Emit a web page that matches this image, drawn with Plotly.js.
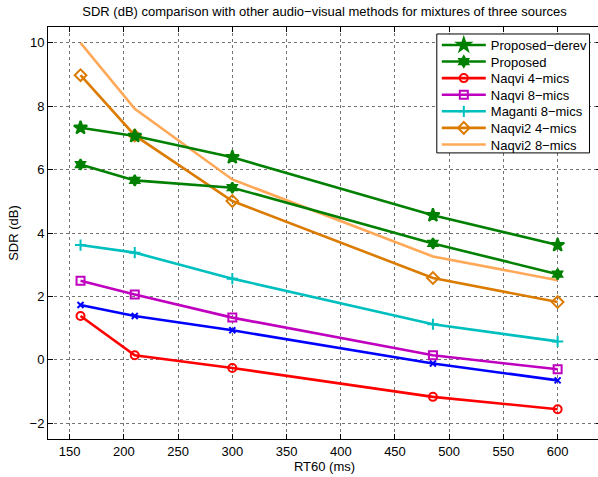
<!DOCTYPE html>
<html>
<head>
<meta charset="utf-8">
<script src="https://cdn.plot.ly/plotly-3.0.1.min.js"></script>
<style>
html,body{margin:0;padding:0;overflow:hidden;background:#fff;width:598px;height:477px;}
#chart{width:610px;height:477px;}
</style>
</head>
<body>
<div id="chart"></div>
<script>
const rt60 = [160, 210, 300, 485, 600];
const proposedDerev = [7.32, 7.06, 6.39, 4.56, 3.62];
const proposed = [6.16, 5.66, 5.43, 3.67, 2.70];
const naqvi4 = [1.38, 0.14, -0.26, -1.17, -1.56];
const naqvi8 = [2.49, 2.06, 1.33, 0.14, -0.30];
const maganti8 = [3.62, 3.38, 2.56, 1.12, 0.58];
const naqvi2_4 = [8.98, 7.08, 5.01, 2.58, 1.82];
const naqvi2_8 = [10.0, 7.92, 5.69, 3.26, 2.51];
const unlabeled = [1.73, 1.38, 0.93, -0.12, -0.65];

const xTicks = [150, 200, 250, 300, 350, 400, 450, 500, 550, 600];
const yTicks = [-2, 0, 2, 4, 6, 8, 10];
const legendOrder = ['Proposed\u2212derev', 'Proposed', 'Naqvi 4\u2212mics', 'Naqvi 8\u2212mics',
  'Maganti 8\u2212mics', 'Naqvi2 4\u2212mics', 'Naqvi2 8\u2212mics'];

const LW = 2.6;
function tr(name, y, color, symbol, size, show) {
  const t = {
    x: rt60, y: y, name: name, type: 'scatter',
    mode: symbol ? 'lines+markers' : 'lines',
    line: {color: color, width: LW},
    showlegend: show
  };
  if (symbol) {
    t.marker = {symbol: symbol, size: size, color: color, line: {color: color, width: 2}};
  }
  const i = legendOrder.indexOf(name);
  if (show && i >= 0) t.legend = i === 0 ? 'legend' : 'legend' + (i + 1);
  return t;
}

const data = [
  tr('unlabeled', unlabeled, '#0000FF', 'x-thin', 6, false),
  tr('Naqvi 4\u2212mics', naqvi4, '#FF0000', 'circle-open', 8, true),
  tr('Naqvi 8\u2212mics', naqvi8, '#BF00BF', 'square-open', 8, true),
  tr('Maganti 8\u2212mics', maganti8, '#00BFBF', 'cross-thin', 8, true),
  tr('Naqvi2 8\u2212mics', naqvi2_8, '#FFA858', null, 0, true),
  tr('Naqvi2 4\u2212mics', naqvi2_4, '#DB7B00', 'diamond-open', 9, true),
  tr('Proposed', proposed, '#008000', 'hexagram', 8, true),
  tr('Proposed\u2212derev', proposedDerev, '#008000', 'star', 10, true)
];

const axisCommon = {
  showline: true, linecolor: '#000', linewidth: 1, mirror: 'ticks',
  ticks: 'inside', ticklen: 5, tickcolor: '#000', tickwidth: 1,
  showgrid: true, gridcolor: 'rgba(0,0,0,0.55)', griddash: 'dot', gridwidth: 1,
  zeroline: false,
  tickfont: {family: 'Liberation Sans, Arial, sans-serif', size: 13, color: '#000'}
};

const mT = 27, plotH = 412.3, mL = 47.5, plotW = 554;
const layout = {
  width: 610, height: 477,
  margin: {l: mL, r: 610 - mL - plotW, t: mT, b: 477 - mT - plotH},
  paper_bgcolor: '#fff', plot_bgcolor: '#fff',
  font: {family: 'Liberation Sans, Arial, sans-serif', color: '#000'},
  title: {
    text: 'SDR (dB) comparison with other audio\u2212visual methods for mixtures of three sources',
    font: {size: 13, color: '#000'}, x: 0.5, xref: 'paper', y: 0.975, yref: 'container', yanchor: 'middle'
  },
  xaxis: Object.assign({}, axisCommon, {
    range: [130, 640], tickvals: xTicks,
    title: {text: 'RT60 (ms)', font: {size: 13}, standoff: 4}
  }),
  yaxis: Object.assign({}, axisCommon, {
    range: [-2.5, 10.5], tickvals: yTicks, ticktext: yTicks.map(v => v < 0 ? '\u2212' + Math.abs(v) : String(v)),
    title: {text: 'SDR (dB)', font: {size: 13}, standoff: 8}
  }),
  showlegend: true,
  shapes: [{
    type: 'rect', xref: 'paper', yref: 'paper',
    x0: (437 - mL) / plotW, x1: (590 - mL) / plotW,
    y0: 1 - (153 - mT) / plotH, y1: 1 - (34 - mT) / plotH,
    line: {color: '#000', width: 1}, fillcolor: '#fff', layer: 'above'
  }]
};

legendOrder.forEach((name, i) => {
  const key = i === 0 ? 'legend' : 'legend' + (i + 1);
  const yc = 45 + i * 16.6;
  layout[key] = {
    x: (437 - mL) / plotW, y: 1 - (yc - mT) / plotH, xanchor: 'left', yanchor: 'middle',
    bgcolor: 'rgba(0,0,0,0)', borderwidth: 0,
    font: {size: 13, color: '#000'}, itemwidth: 44
  };
});

Plotly.newPlot('chart', data, layout, {displayModeBar: false, staticPlot: true});
</script>
</body>
</html>
